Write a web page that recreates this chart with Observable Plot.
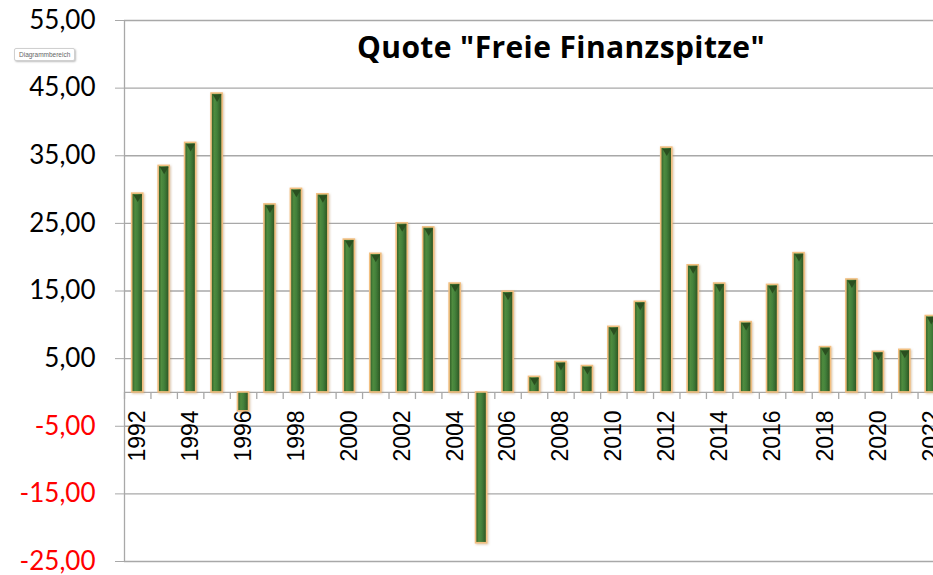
<!DOCTYPE html>
<html><head><meta charset="utf-8">
<script src="https://cdn.jsdelivr.net/npm/d3@7"></script>
<script src="https://cdn.jsdelivr.net/npm/@observablehq/plot@0.6"></script>
<style>
html,body{margin:0;padding:0;background:#fff;overflow:hidden}
#wrap{position:relative;width:933px;height:575px;overflow:hidden;background:#fff}
#wrap svg{max-width:none !important}
#title{position:absolute;left:357px;top:26px;font:bold 30px "Open Sans",Lato,sans-serif;color:#000;white-space:nowrap}
#tip{position:absolute;left:14px;top:48px;height:11px;padding:0 4px;border:1px solid #d0d0d0;border-radius:2px;background:#fff;box-shadow:1px 1px 2px rgba(0,0,0,0.25);font:6.5px/11px "Liberation Sans",Arial,sans-serif;color:#666;white-space:nowrap}
</style></head><body><div id="wrap"></div>
<script>
const years = [1992,1993,1994,1995,1996,1997,1998,1999,2000,2001,2002,2003,2004,2005,2006,2007,2008,2009,2010,2011,2012,2013,2014,2015,2016,2017,2018,2019,2020,2021,2022];
const quote = [29.4,33.5,36.9,44.2,-2.8,27.8,30.1,29.3,22.6,20.5,25.0,24.4,16.1,-22.3,14.9,2.3,4.5,3.9,9.7,13.4,36.2,18.8,16.1,10.4,15.9,20.6,6.7,16.7,6.0,6.3,11.3];
const yTicks = [-25,-15,-5,5,15,25,35,45,55];
const yearLabels = years.filter(y => y % 2 === 0);
const titleText = 'Quote "Freie Finanzspitze"';
const tipText = "Diagrammbereich";

const data = years.map((year, i) => ({year, value: quote[i]}));
const boundaries = years.map(y => y - 0.5).concat([years[years.length - 1] + 0.5]);
const fmt = d => d.toFixed(2).replace(".", ",");
const grid = "#a8a8a8";

const chart = Plot.plot({
  width: 944, height: 575,
  marginLeft: 124, marginRight: 0, marginTop: 20, marginBottom: 14,
  x: {type: "linear", domain: [years[0] - 0.5, years[years.length - 1] + 0.5], axis: null},
  y: {domain: [-25, 55], axis: null},
  style: {fontFamily: "Lato, 'Open Sans', sans-serif", background: "white", maxWidth: "none"},
  marks: [
    Plot.gridY(yTicks, {stroke: grid, strokeOpacity: 1, strokeWidth: 1.3}),
    Plot.ruleX([years[0] - 0.5], {stroke: grid, strokeWidth: 1.3}),
    Plot.ruleY([0], {stroke: grid, strokeWidth: 1.3}),
    Plot.axisY(yTicks.filter(v => v >= 0), {label: null, tickSize: 9, tickPadding: 20, fontSize: 26, stroke: grid, fill: "#000", tickFormat: fmt}),
    Plot.axisY(yTicks.filter(v => v < 0), {label: null, tickSize: 9, tickPadding: 20, fontSize: 26, stroke: grid, fill: "#ff0000", tickFormat: fmt}),
    Plot.ruleX(boundaries, {y1: 0, y2: -1.05, stroke: grid, strokeWidth: 1.3}),
    Plot.rectY(data, {x1: d => d.year - 0.5, x2: d => d.year + 0.5, y1: 0, y2: "value", insetLeft: 7.7, insetRight: 7.7, fill: "url(#barGrad)", stroke: "#f2bf80", strokeWidth: 1.6}),
    Plot.dot(data.filter(d => d.value > 0), {x: "year", y: "value", symbol: "triangle", r: 3.2, rotate: 180, dy: 3.5, fill: "#2a4f1f", stroke: "none"}),
    Plot.text(yearLabels, {x: d => d, y: 0, text: d => String(d), rotate: -90, textAnchor: "end", dy: 18, fontSize: 23, fontFamily: "'Liberation Sans', Arial, sans-serif", fill: "#000"})
  ]
});

const svg = d3.select(chart);
const defs = svg.insert("defs", ":first-child");
const g = defs.append("linearGradient").attr("id", "barGrad").attr("x1", "0").attr("x2", "1").attr("y1", "0").attr("y2", "0");
[[0, "#2c5621"], [0.3, "#4f8c3f"], [0.55, "#43803a"], [1, "#2a5020"]].forEach(([o, c]) => g.append("stop").attr("offset", o).attr("stop-color", c));
const f = defs.append("filter").attr("id", "glow").attr("x", "-50%").attr("y", "-10%").attr("width", "200%").attr("height", "120%");
f.append("feDropShadow").attr("dx", 1).attr("dy", 1).attr("stdDeviation", 1.3).attr("flood-color", "#b89060").attr("flood-opacity", 0.5);
svg.selectAll('g[aria-label="rect"]').attr("filter", "url(#glow)");

const wrap = document.getElementById("wrap");
wrap.appendChild(chart);
chart.style.maxWidth = "none";
const t = document.createElement("div"); t.id = "title"; t.textContent = titleText; wrap.appendChild(t);
const w = t.getBoundingClientRect().width;
t.style.letterSpacing = ((408 - w) / titleText.length) + "px";
const tp = document.createElement("div"); tp.id = "tip"; tp.textContent = tipText; wrap.appendChild(tp);
</script></body></html>
